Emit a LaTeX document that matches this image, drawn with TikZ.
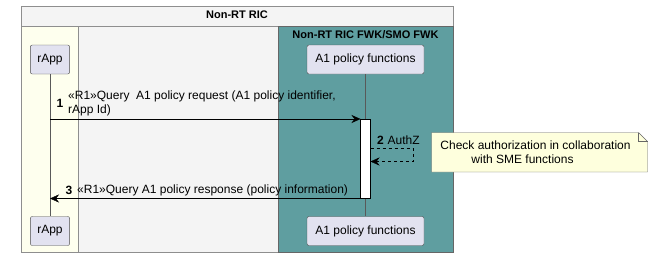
\documentclass[tikz,border=0pt]{standalone}
\usepackage{fontspec}
\setmainfont{Liberation Sans}
\usetikzlibrary{arrows.meta,calc,positioning}
\definecolor{ricback}{HTML}{F4F4F4}
\definecolor{ricline}{HTML}{8E8E8E}
\definecolor{appback}{HTML}{FEFFEE}
\definecolor{fwkback}{HTML}{5F9EA0}
\definecolor{partback}{HTML}{E2E2F0}
\definecolor{noteback}{HTML}{FEFFDD}
\tikzstyle{boxtitle} = [font=\bfseries\fontsize{11}{13}\selectfont]
\tikzstyle{participant} = [draw=black!70, fill=partback, rounded corners=2pt,
    minimum height=29pt, inner xsep=7pt, font=\fontsize{12}{14}\selectfont]
\tikzstyle{msgtext} = [font=\fontsize{12}{14}\selectfont, inner sep=0pt]
\tikzstyle{msgnum} = [font=\bfseries\fontsize{12}{14}\selectfont, inner sep=0pt]
\tikzstyle{msg} = [draw=black, -{Stealth[length=9pt,width=8pt,inset=3pt]}]
\tikzstyle{lifeline} = [draw=black!65]

\begin{document}
\begin{tikzpicture}[x=1pt,y=-1pt]
    \useasboundingbox (0,0) rectangle (653,257);
    % boxes
    \draw[ricline, fill=ricback] (21,6) rectangle (453,252);
    \draw[ricline] (21,26) -- (453,26);
    \node[boxtitle] (ric) at (237,15) {Non-RT RIC};
    \draw[ricline, fill=appback] (21,26) rectangle (78,252);
    \draw[black!60, fill=fwkback] (278,26) rectangle (453,252);
    \node[boxtitle] (fwk) at (365.5,35) {Non-RT RIC FWK/SMO FWK};

    % participants
    \node[participant, minimum width=39pt] (app) at (50,59.5) {rApp};
    \node[participant, minimum width=39pt] (appb) at (50,231) {rApp};
    \node[participant, minimum width=117pt] (pol) at (365.5,59.5) {A1 policy functions};
    \node[participant, minimum width=117pt] (polb) at (365.5,231) {A1 policy functions};
    \draw[lifeline] (app) -- (appb);
    \draw[lifeline] (pol) -- (polb);

    % activation
    \draw[black, fill=white] (360.5,119) rectangle (370.5,198.5);
    \coordinate (actin) at (360.5,119);
    \coordinate (actout) at (360.5,198.5);
    \coordinate (authout) at (370.5,148.5);
    \coordinate (authin) at (370.5,161.5);
    \coordinate (appin) at (app.south |- actout);
    \coordinate (appout) at (app.south |- actin);

    % 1
    \draw[msg] (appout) -- (actin);
    \node[msgnum] (n1) at (60,103) {1};
    \node[msgtext, anchor=west, align=left] (m1) at (68,103)
        {«R1»Query\ \ A1 policy request (A1 policy identifier,\\ rApp Id)};

    % 2
    \draw[msg, dashed] (authout) -- (413,148.5) -- (413,161.5) -- (authin);
    \node[msgnum, anchor=west] (n2) at (377,140) {2};
    \node[msgtext, anchor=west] (m2) at (n2.east) {\ AuthZ};

    % note
    \coordinate (notenw) at (431.5,132.5);
    \coordinate (notese) at (647.5,172);
    \draw[black!60, fill=noteback] (notenw) -- ($(notese|-notenw)+(-9,0)$)
        -- ($(notese|-notenw)+(0,9)$) -- (notese) -- (notenw|-notese) -- cycle;
    \draw[black!60] ($(notese|-notenw)+(-9,0)$) -- ($(notese|-notenw)+(-9,9)$)
        -- ($(notese|-notenw)+(0,9)$);
    \node[msgtext, align=center] (note) at ($(notenw)!0.5!(notese)+(-4,0)$)
        {Check authorization in collaboration\\ with SME functions\hspace*{26pt}};

    % 3
    \draw[msg] (actout) -- (appin);
    \node[msgnum] (n3) at (69,190) {3};
    \node[msgtext, anchor=west] (m3) at (77,190)
        {«R1»Query A1 policy response (policy information)};
\end{tikzpicture}
\end{document}
